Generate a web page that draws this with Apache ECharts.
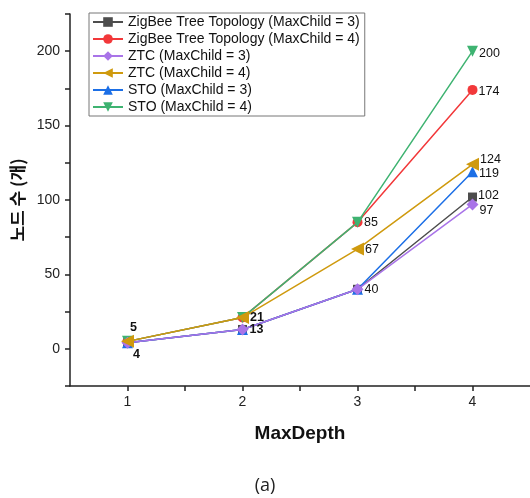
<!DOCTYPE html>
<html>
<head>
<meta charset="utf-8">
<script src="https://cdn.jsdelivr.net/npm/echarts@6/dist/echarts.min.js"></script>
<style>
  html, body { margin: 0; padding: 0; background: #fff; }
  #main { width: 530px; height: 498px; }
</style>
</head>
<body>
<div id="main"></div>
<script>
// MaxDepth 값
var depths = [1, 2, 3, 4];
var yTicks = [0, 50, 100, 150, 200];

// 시리즈 이름
var seriesNames = [
    'ZigBee Tree Topology (MaxChild = 3)',
    'ZigBee Tree Topology (MaxChild = 4)',
    'ZTC (MaxChild = 3)',
    'ZTC (MaxChild = 4)',
    'STO (MaxChild = 3)',
    'STO (MaxChild = 4)'
];

// 노드 수
var zigbee3 = [4, 13, 40, 102];
var zigbee4 = [5, 21, 85, 174];
var ztc3 = [4, 13, 40, 97];
var ztc4 = [5, 21, 67, 124];
var sto3 = [4, 13, 40, 119];
var sto4 = [5, 21, 85, 200];

// 어느 점에 라벨을 붙일지 (true = 표시)
var zigbee3Labels = [false, false, false, true];
var zigbee4Labels = [false, false, false, true];
var ztc3Labels = [true, true, true, true];
var ztc4Labels = [true, true, true, true];
var sto3Labels = [false, false, false, true];
var sto4Labels = [false, false, true, true];

var latin = '"Liberation Sans", Arial, sans-serif';

// labelCfg: 점마다 [position, offsetX, offsetY]
function makeSeries(name, values, labels, color, symbol, rotate, size, z, labelCfg) {
    var data = [];
    for (var i = 0; i < depths.length; i++) {
        var item = { value: [depths[i], values[i]] };
        if (labels[i]) {
            var cfg = (labelCfg && labelCfg[i]) || ['right', 0, 0];
            item.label = {
                show: true,
                position: cfg[0],
                offset: [cfg[1], cfg[2]],
                distance: 1,
                formatter: String(values[i])
            };
            if (i < 2) {
                item.label.fontWeight = 'bold';
            }
        }
        data.push(item);
    }
    return {
        name: name,
        type: 'line',
        data: data,
        z: z,
        symbol: symbol,
        symbolSize: size,
        symbolRotate: rotate,
        showAllSymbol: true,
        itemStyle: { color: color },
        lineStyle: { color: color, width: 1.5 },
        label: {
            show: false,
            color: '#111',
            fontFamily: latin,
            fontSize: 12.5
        },
        emphasis: { disabled: true },
        animation: false
    };
}

var chart = echarts.init(document.getElementById('main'));

var option = {
    backgroundColor: '#fff',
    title: {
        text: '(a)',
        left: 'center',
        bottom: -2,
        textStyle: {
            fontFamily: '"Open Sans", "Noto Sans", sans-serif',
            fontWeight: 'normal',
            fontSize: 18,
            color: '#222'
        }
    },
    legend: {
        orient: 'vertical',
        left: 89,
        top: 13,
        padding: [2, 5, 2, 3],
        itemGap: 3,
        itemWidth: 30,
        itemHeight: 12,
        borderColor: '#777',
        borderWidth: 1,
        textStyle: { fontFamily: latin, fontSize: 14, color: '#111' },
        data: seriesNames
    },
    grid: { left: 70, right: 0, top: 14, bottom: 112 },
    xAxis: {
        type: 'value',
        min: 0.5,
        max: 4.5,
        interval: 0.5,
        name: 'MaxDepth',
        nameLocation: 'middle',
        nameGap: 38,
        nameTextStyle: { fontFamily: latin, fontWeight: 'bold', fontSize: 19, color: '#111' },
        axisLine: { onZero: false, lineStyle: { color: '#222', width: 1.5 } },
        axisTick: {
            length: 5,
            lineStyle: { color: '#222', width: 1.5 },
            interval: 0
        },
        axisLabel: {
            fontFamily: latin,
            fontSize: 14,
            color: '#222',
            margin: 9,
            showMinLabel: false,
            showMaxLabel: false,
            formatter: function (v) {
                return depths.indexOf(v) >= 0 ? String(v) : '';
            }
        },
        splitLine: { show: false }
    },
    yAxis: {
        type: 'value',
        min: -25,
        max: 225,
        interval: 25,
        name: '노드 수 (개)',
        nameLocation: 'middle',
        nameGap: 36,
        nameTextStyle: {
            fontFamily: '"Noto Sans CJK KR", sans-serif',
            fontWeight: 'bold',
            fontSize: 17,
            color: '#111'
        },
        axisLine: { show: true, lineStyle: { color: '#222', width: 1.5 } },
        axisTick: { length: 5, lineStyle: { color: '#222', width: 1.5 } },
        axisLabel: {
            fontFamily: latin,
            fontSize: 14,
            color: '#222',
            margin: 10,
            formatter: function (v) {
                return yTicks.indexOf(v) >= 0 ? String(v) : '';
            }
        },
        splitLine: { show: false }
    },
    series: [
        makeSeries(seriesNames[0], zigbee3, zigbee3Labels, '#4d4d4d', 'rect', 0, 9, 2,
            [null, null, null, ['right', 0, -1]]),
        makeSeries(seriesNames[1], zigbee4, zigbee4Labels, '#f2383a', 'circle', 0, 10, 3,
            [null, null, null, ['right', 0, 2]]),
        makeSeries(seriesNames[2], ztc3, ztc3Labels, '#a974e8', 'diamond', 0, 12, 6,
            [['bottom', 9, -2], ['right', 0, 0], ['right', 0, 0], ['right', 0, 6]]),
        makeSeries(seriesNames[3], ztc4, ztc4Labels, '#cf9a0e', 'triangle', 90, 13, 7,
            [['top', 6, 0], ['right', 0, 0], ['right', 0, 0], ['right', 0, -5]]),
        makeSeries(seriesNames[4], sto3, sto3Labels, '#1c6fe6', 'triangle', 0, 11, 4,
            [null, null, null, ['right', 0, 2]]),
        makeSeries(seriesNames[5], sto4, sto4Labels, '#3eb371', 'triangle', 180, 11, 5,
            [null, null, ['right', 0, 0], ['right', 0, 2]])
    ]
};

chart.setOption(option);
</script>
</body>
</html>
